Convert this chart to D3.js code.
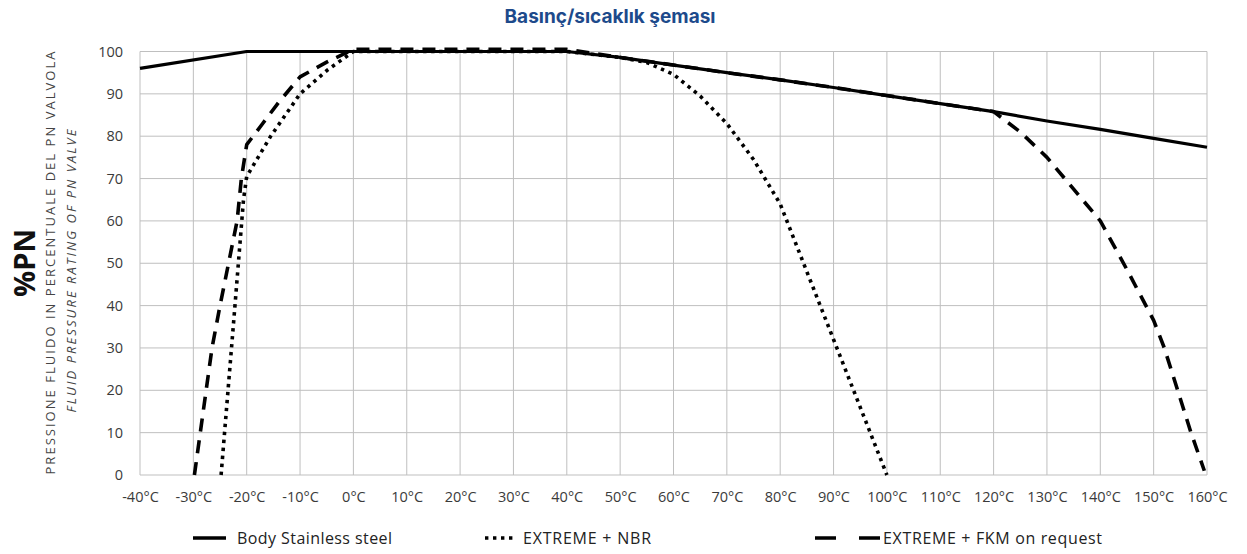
<!DOCTYPE html>
<html>
<head>
    <meta charset="UTF-8">
    <title>Basınç/sıcaklık şeması</title>
    <script src="https://d3js.org/d3.v7.min.js"></script>
    <style>
        body { margin: 0; background: #fff; }
        svg { display: block; }
        .grid line { stroke: #bfbfbf; stroke-width: 1; }
        .tick-label { font-family: "Open Sans", sans-serif; font-size: 14.5px; fill: #3a3a3a; }
        .legend text { font-family: "Open Sans", sans-serif; font-size: 16px; fill: #222; }
    </style>
</head>
<body>
    <svg width="1247" height="554"></svg>
    <script>
        // axis ticks
        var tempTicks = [-40, -30, -20, -10, 0, 10, 20, 30, 40, 50, 60, 70, 80, 90, 100, 110, 120, 130, 140, 150, 160];
        var pnTicks = [0, 10, 20, 30, 40, 50, 60, 70, 80, 90, 100];

        // Body Stainless steel
        var steelTemp = [-40, -20, 0, 40, 50, 60, 70, 80, 90, 100, 110, 120, 130, 140, 150, 160];
        var steelPN   = [96, 100, 100, 100, 98.6, 96.8, 95, 93.3, 91.5, 89.6, 87.7, 85.8, 83.6, 81.6, 79.5, 77.4];

        // EXTREME + NBR
        var nbrTemp = [-24.8, -22.2, -20.6, -20, -15.5, -10, -5, 0, 40, 50, 55, 60, 65, 70, 75, 80, 90, 100];
        var nbrPN   = [0, 40, 65, 70.5, 80, 90, 95.5, 100, 100, 98.6, 97.4, 94.6, 89.5, 83, 74.5, 64, 32, 0];

        // EXTREME + FKM on request
        var fkmTemp = [-29.8, -28.7, -26.5, -25, -21.8, -21, -20, -17, -14, -10, -5, 0, 40, 50, 60, 70, 80, 90, 100, 110, 120, 125, 130, 135, 140, 145, 150, 152, 155, 157, 159.5];
        var fkmPN   = [0, 10, 30, 40, 60, 70, 78, 83, 88, 94, 97.5, 100.5, 100.5, 98.6, 96.8, 95, 93.3, 91.5, 89.6, 87.7, 85.8, 81, 75, 67.5, 60, 48.5, 36.5, 30, 18, 10, 1];

        var legendNames = ["Body Stainless steel", "EXTREME + NBR", "EXTREME + FKM on request"];

        var svg = d3.select("svg");

        var x = d3.scaleLinear().domain([-40, 160]).range([140, 1207]);
        var y = d3.scaleLinear().domain([0, 100]).range([475, 51.5]);

        // title
        svg.append("text")
            .attr("x", 610).attr("y", 23)
            .attr("text-anchor", "middle")
            .style("font-family", "Inter, 'Open Sans', sans-serif")
            .style("font-weight", 700)
            .style("font-size", "19px")
            .style("fill", "#1d4a8b")
            .text("Basınç/sıcaklık şeması");

        // grid
        var grid = svg.append("g").attr("class", "grid");
        grid.selectAll(".v").data(tempTicks).enter().append("line")
            .attr("x1", d => x(d)).attr("x2", d => x(d))
            .attr("y1", y(100)).attr("y2", y(0));
        grid.selectAll(".h").data(pnTicks).enter().append("line")
            .attr("x1", x(-40)).attr("x2", x(160))
            .attr("y1", d => y(d)).attr("y2", d => y(d));

        // tick labels via d3 axes, domain + tick lines hidden
        var xAxis = svg.append("g")
            .attr("transform", "translate(0," + y(0) + ")")
            .call(d3.axisBottom(x).tickValues(tempTicks).tickSize(0).tickPadding(17).tickFormat(d => d + "°C"));
        var yAxis = svg.append("g")
            .attr("transform", "translate(" + x(-40) + ",0)")
            .call(d3.axisLeft(y).tickValues(pnTicks).tickSize(0).tickPadding(17));
        [xAxis, yAxis].forEach(function(a) {
            a.select(".domain").remove();
            a.attr("font-size", null).attr("font-family", null);
            a.selectAll("text").attr("class", "tick-label").attr("fill", null);
        });

        // y axis titles
        svg.append("text")
            .attr("transform", "translate(35,263) rotate(-90)")
            .attr("text-anchor", "middle")
            .style("font-family", "'Open Sans', sans-serif")
            .style("font-weight", 700)
            .style("font-size", "29px")
            .style("fill", "#111")
            .text("%PN");
        svg.append("text")
            .attr("transform", "translate(55,263) rotate(-90)")
            .attr("text-anchor", "middle")
            .attr("textLength", 423)
            .style("font-family", "'Open Sans', sans-serif")
            .style("font-size", "13px")
            .style("fill", "#444")
            .text("PRESSIONE FLUIDO IN PERCENTUALE DEL PN VALVOLA");
        svg.append("text")
            .attr("transform", "translate(76,271) rotate(-90)")
            .attr("text-anchor", "middle")
            .attr("textLength", 283)
            .style("font-family", "'Open Sans', sans-serif")
            .style("font-style", "italic")
            .style("font-size", "13px")
            .style("fill", "#444")
            .text("FLUID PRESSURE RATING OF PN VALVE");

        // lines
        var line = d3.line().x(d => x(d[0])).y(d => y(d[1]));
        var series = [
            { pts: d3.zip(steelTemp, steelPN), dash: null, w: 3.2 },
            { pts: d3.zip(nbrTemp, nbrPN), dash: "3.4,4.6", w: 3.6 },
            { pts: d3.zip(fkmTemp, fkmPN), dash: "13,9", w: 3.6 }
        ];
        // draw steel last so it sits on top, like the original
        [series[1], series[2], series[0]].forEach(function(s) {
            svg.append("path")
                .attr("d", line(s.pts))
                .attr("fill", "none")
                .attr("stroke", "#000")
                .attr("stroke-width", s.w)
                .attr("stroke-linejoin", "round")
                .attr("stroke-dasharray", s.dash);
        });

        // legend
        var legendX = [193, 485, 815];
        var legendSample = [33, 28, 65];
        var legendTextX = [237, 523, 883];
        var legendTextW = [155, 128, 219];
        var lg = svg.append("g").attr("class", "legend");
        legendNames.forEach(function(name, i) {
            var s = series[i];
            lg.append("line")
                .attr("x1", legendX[i]).attr("x2", legendX[i] + legendSample[i])
                .attr("y1", 538).attr("y2", 538)
                .attr("stroke", "#000")
                .attr("stroke-width", 3.6)
                .attr("stroke-dasharray", i == 2 ? "21,23" : s.dash);
            lg.append("text")
                .attr("x", legendTextX[i])
                .attr("y", 544)
                .attr("textLength", legendTextW[i])
                .text(name);
        });
    </script>
</body>
</html>
